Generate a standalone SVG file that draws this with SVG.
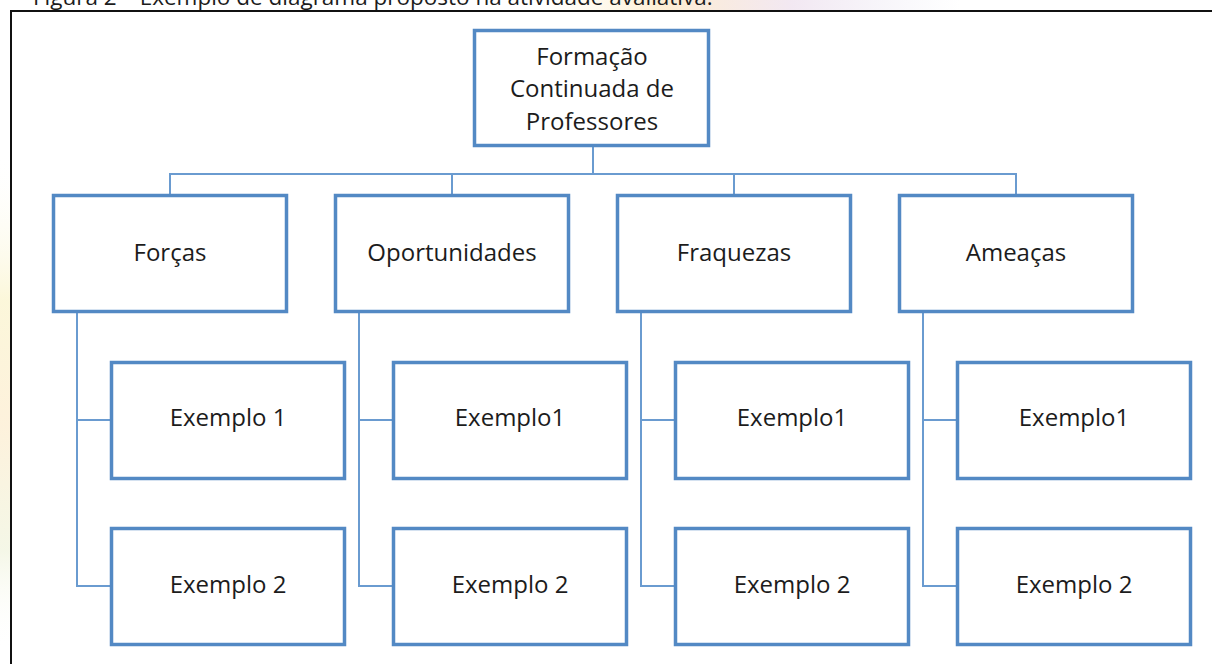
<svg xmlns="http://www.w3.org/2000/svg" width="1212" height="664" viewBox="0 0 1212 664">
<defs>
<linearGradient id="topwash" x1="0" y1="0" x2="1" y2="0">
<stop offset="0" stop-color="#fff6d8" stop-opacity="0"/>
<stop offset="0.3" stop-color="#fde9c8" stop-opacity="0.8"/>
<stop offset="0.6" stop-color="#efe2ef" stop-opacity="0.8"/>
<stop offset="1" stop-color="#e8e8f4" stop-opacity="0"/>
</linearGradient>
<linearGradient id="leftwash" x1="0" y1="0" x2="0" y2="1">
<stop offset="0" stop-color="#ffffff" stop-opacity="0"/>
<stop offset="0.3" stop-color="#fbf6d6" stop-opacity="0.9"/>
<stop offset="0.55" stop-color="#fdf0d8" stop-opacity="0.9"/>
<stop offset="0.8" stop-color="#f3f6e4" stop-opacity="0.9"/>
<stop offset="1" stop-color="#ffffff" stop-opacity="0"/>
</linearGradient>
</defs>
<style>
.box{fill:#ffffff;stroke:#5389c4;stroke-width:3.5}
.lbl{font-family:"Open Sans","Liberation Sans",sans-serif;font-size:24px;fill:#1c1c1c;text-anchor:middle}
.con{fill:none;stroke:#6a9bd0;stroke-width:2}
.cap{font-family:"Open Sans","Liberation Sans",sans-serif;font-size:22.5px;fill:#1c1c1c}
</style>
<rect width="1212" height="664" fill="#ffffff"/>
<rect x="540" y="0" width="420" height="12" fill="url(#topwash)"/>
<rect x="0" y="150" width="11" height="500" fill="url(#leftwash)"/>
<text class="cap" x="33" y="5">Figura 2 – Exemplo de diagrama proposto na atividade avaliativa.</text>
<path d="M11 670 V11 H1220" fill="#ffffff" stroke="#111111" stroke-width="2"/>
<g id="connectors">
<path class="con" d="M593 146 V174" stroke-width="3"/>
<path class="con" d="M170 195 V174 H1016 V195 M452 174 V195 M734 174 V195"/>
<path class="con" d="M77 312 V586 H111 M77 420 H111"/>
<path class="con" d="M359 312 V586 H393 M359 420 H393"/>
<path class="con" d="M641 312 V586 H675 M641 420 H675"/>
<path class="con" d="M923 312 V586 H957 M923 420 H957"/>
</g>
<g id="root">
<rect class="box" x="474.5" y="30.5" width="234" height="115"/>
<text class="lbl" x="592" y="65">Formação</text>
<text class="lbl" x="592" y="97">Continuada de</text>
<text class="lbl" x="592" y="130">Professores</text>
</g>
<g id="forcas">
<rect class="box" x="53.5" y="195.5" width="233" height="116"/>
<text class="lbl" x="170" y="261">Forças</text>
</g>
<g id="oportunidades">
<rect class="box" x="335.5" y="195.5" width="233" height="116"/>
<text class="lbl" x="452" y="261">Oportunidades</text>
</g>
<g id="fraquezas">
<rect class="box" x="617.5" y="195.5" width="233" height="116"/>
<text class="lbl" x="734" y="261">Fraquezas</text>
</g>
<g id="ameacas">
<rect class="box" x="899.5" y="195.5" width="233" height="116"/>
<text class="lbl" x="1016" y="261">Ameaças</text>
</g>
<g id="forcas-ex1">
<rect class="box" x="111.5" y="362.5" width="233" height="116"/>
<text class="lbl" x="228" y="426">Exemplo 1</text>
</g>
<g id="forcas-ex2">
<rect class="box" x="111.5" y="528.5" width="233" height="116"/>
<text class="lbl" x="228" y="593">Exemplo 2</text>
</g>
<g id="oportunidades-ex1">
<rect class="box" x="393.5" y="362.5" width="233" height="116"/>
<text class="lbl" x="510" y="426">Exemplo1</text>
</g>
<g id="oportunidades-ex2">
<rect class="box" x="393.5" y="528.5" width="233" height="116"/>
<text class="lbl" x="510" y="593">Exemplo 2</text>
</g>
<g id="fraquezas-ex1">
<rect class="box" x="675.5" y="362.5" width="233" height="116"/>
<text class="lbl" x="792" y="426">Exemplo1</text>
</g>
<g id="fraquezas-ex2">
<rect class="box" x="675.5" y="528.5" width="233" height="116"/>
<text class="lbl" x="792" y="593">Exemplo 2</text>
</g>
<g id="ameacas-ex1">
<rect class="box" x="957.5" y="362.5" width="233" height="116"/>
<text class="lbl" x="1074" y="426">Exemplo1</text>
</g>
<g id="ameacas-ex2">
<rect class="box" x="957.5" y="528.5" width="233" height="116"/>
<text class="lbl" x="1074" y="593">Exemplo 2</text>
</g>
</svg>
